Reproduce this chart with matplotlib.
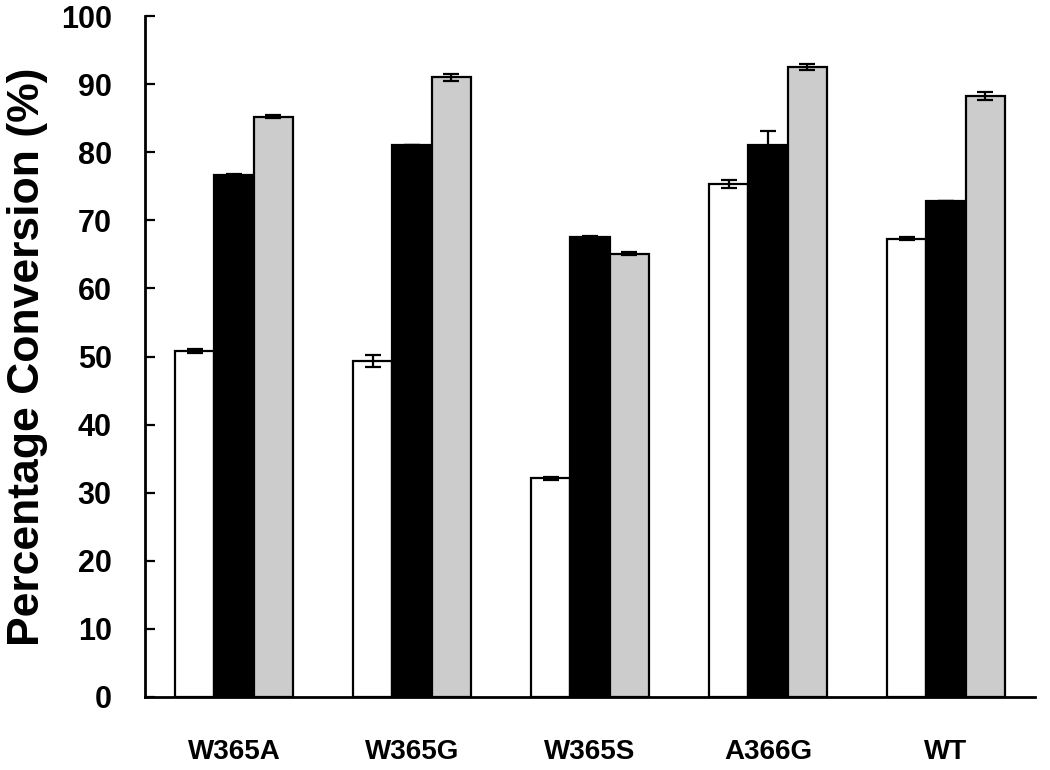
import matplotlib
matplotlib.use("Agg")
import matplotlib.pyplot as plt
import numpy as np

categories = ["W365A", "W365G", "W365S", "A366G", "WT"]
series1 = [50.8, 49.3, 32.1, 75.3, 67.3]
series1_err = [0.3, 0.9, 0.2, 0.6, 0.2]
series2 = [76.6, 81.0, 67.5, 81.0, 72.9]
series2_err = [0.2, 0.0, 0.2, 2.1, 0.0]
series3 = [85.2, 91.0, 65.1, 92.5, 88.2]
series3_err = [0.2, 0.5, 0.2, 0.5, 0.6]
yticks = [0, 10, 20, 30, 40, 50, 60, 70, 80, 90, 100]

plt.rcParams['font.family'] = ['Liberation Sans', 'DejaVu Sans']
plt.rcParams['font.weight'] = 'bold'

fig = plt.figure(figsize=(10.5, 7.7), dpi=100)
ax = fig.add_axes([145/1050, 73/770, 890/1050, 681/770])

x = np.arange(len(categories))
w = 0.22
colors = ["white", "black", "#cccccc"]
data = [(series1, series1_err), (series2, series2_err), (series3, series3_err)]
for i, ((vals, errs), c) in enumerate(zip(data, colors)):
    pos = x + (i - 1) * w
    ax.bar(pos, vals, w, color=c, edgecolor="black", linewidth=1.6, zorder=2)
    ax.errorbar(pos, vals, yerr=errs, fmt="none", ecolor="black",
                elinewidth=1.6, capsize=5.5, capthick=1.6, zorder=3)

ax.set_xlim(-0.5, len(categories) - 0.5)
ax.set_ylim(0, 100)
ax.set_yticks(yticks)
ax.set_xticks(x)
ax.set_xticklabels(categories, fontsize=20, fontweight="bold")
ax.tick_params(axis="x", length=0, pad=30)
ax.tick_params(axis="y", direction="in", length=7, width=1.6, pad=24, labelsize=22)
for lab in ax.get_yticklabels():
    lab.set_fontweight("bold")
ax.set_ylabel("Percentage Conversion (%)", fontsize=32, fontweight="bold", labelpad=9)

for s in ["top", "right"]:
    ax.spines[s].set_visible(False)
for s in ["left", "bottom"]:
    ax.spines[s].set_linewidth(2)

fig.savefig("out.png", dpi=100)
